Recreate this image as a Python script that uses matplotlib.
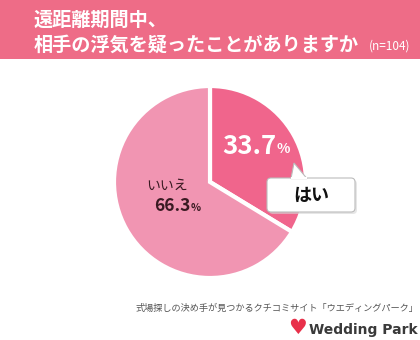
import matplotlib
matplotlib.use("Agg")
import matplotlib.pyplot as plt
from matplotlib.patches import Rectangle, FancyBboxPatch, Polygon

plt.rcParams['font.family'] = ['Noto Sans CJK JP', 'DejaVu Sans']

labels = ["はい", "いいえ"]
values = [33.7, 66.3]
colors = ["#F0658C", "#F195B2"]
title_line1 = "遠距離期間中、"
title_line2 = "相手の浮気を疑ったことがありますか"
n_note = "(n=104)"
footer = "式場探しの決め手が見つかるクチコミサイト「ウエディングパーク」"
brand = "Wedding Park"

W, H = 420, 340
fig = plt.figure(figsize=(W / 100, H / 100), dpi=100)
ax = fig.add_axes([0, 0, 1, 1])

def Y(y):
    return H - y

# header band
ax.add_patch(Rectangle((0, Y(59)), W, 59, facecolor="#EE6C87", edgecolor="none", zorder=0))
ax.text(34, Y(20), title_line1, color="white", fontsize=13.8, fontweight="bold", va="center", ha="left")
ax.text(34, Y(45), title_line2, color="white", fontsize=13.8, fontweight="bold", va="center", ha="left")
ax.text(369, Y(46), n_note, color="white", fontsize=8.5, va="center", ha="left")

# pie
cx, cy, r = 210, Y(182), 96
ax.pie(values, colors=colors, startangle=90, counterclock=False,
       center=(cx, cy), radius=r, frame=True,
       wedgeprops=dict(edgecolor="white", linewidth=3))

# labels
ax.text(249, Y(146), f"{values[0]:.1f}", color="white", fontsize=18.5, fontweight="bold",
        va="center", ha="center")
ax.text(283, Y(149), "%", color="white", fontsize=10, fontweight="bold", va="center", ha="center")
ax.text(167, Y(186), labels[1], color="#3a1a22", fontsize=10, va="center", ha="center")
ax.text(172, Y(206), f"{values[1]:.1f}", color="#3a1a22", fontsize=12.5, fontweight="bold",
        va="center", ha="center")
ax.text(196, Y(208), "%", color="#3a1a22", fontsize=7.5, fontweight="bold", va="center", ha="center")

# callout
shadow = FancyBboxPatch((269, Y(214)), 88, 34, boxstyle="round,pad=0,rounding_size=4",
                        facecolor="#d6d6d6", edgecolor="none", alpha=0.6, zorder=4)
ax.add_patch(shadow)
box = FancyBboxPatch((267, Y(212)), 88, 34, boxstyle="round,pad=0,rounding_size=4",
                     facecolor="white", edgecolor="#bbbbbb", linewidth=0.8, zorder=5)
ax.add_patch(box)
ptr = Polygon([(291, Y(178.6)), (294, Y(163)), (307, Y(178.6))], closed=True,
              facecolor="white", edgecolor="#bbbbbb", linewidth=0.8, zorder=6)
ax.add_patch(ptr)
ax.plot([291.6, 306.4], [Y(178.2), Y(178.2)], color="white", linewidth=1.5, zorder=7)
ax.text(311, Y(195), labels[0], color="#111111", fontsize=13, fontweight="bold",
        va="center", ha="center", zorder=8)

# footer
ax.text(418, Y(308), footer, color="#555555", fontsize=6.6, va="center", ha="right")
ax.text(297, Y(328), "♥", color="#E8304A", fontsize=15, va="center", ha="center",
        family="DejaVu Sans")
ax.text(418, Y(330), brand, color="#3a3a3a", fontsize=10, fontweight="bold",
        va="center", ha="right", family="DejaVu Sans")

ax.set_xlim(0, W)
ax.set_ylim(0, H)
ax.set_aspect("auto")
ax.axis("off")

fig.savefig("out.png", dpi=100, facecolor="white")
